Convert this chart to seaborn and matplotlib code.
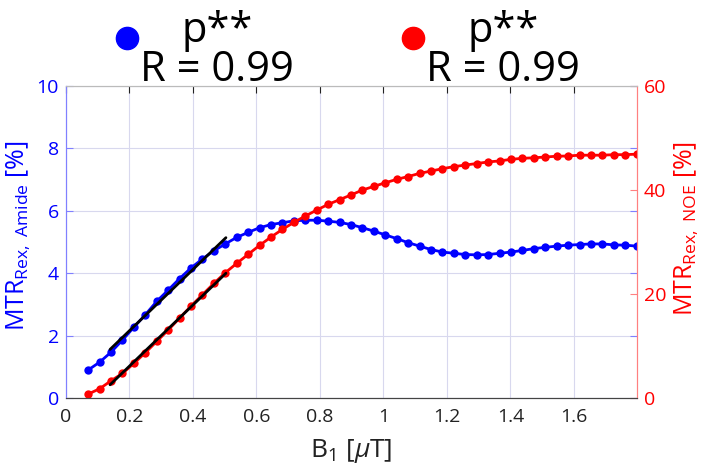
import matplotlib
matplotlib.use('Agg')
from matplotlib import pyplot as plt
from matplotlib.lines import Line2D
import pandas as pd
import seaborn as sns

# B1 sweep [uT]
b1 = [0.070, 0.106, 0.142, 0.178, 0.214, 0.250, 0.286, 0.322, 0.358, 0.394,
      0.430, 0.466, 0.502, 0.538, 0.574, 0.610, 0.646, 0.682, 0.718, 0.754,
      0.790, 0.826, 0.862, 0.898, 0.934, 0.970, 1.006, 1.042, 1.078, 1.114,
      1.150, 1.186, 1.222, 1.258, 1.294, 1.330, 1.366, 1.402, 1.438, 1.474,
      1.510, 1.546, 1.582, 1.618, 1.654, 1.690, 1.726, 1.762, 1.798]

amide = [0.90, 1.15, 1.47, 1.86, 2.27, 2.67, 3.10, 3.46, 3.83, 4.17,
         4.46, 4.72, 4.94, 5.15, 5.31, 5.46, 5.56, 5.62, 5.68, 5.70,
         5.70, 5.67, 5.63, 5.56, 5.46, 5.35, 5.23, 5.11, 4.98, 4.87,
         4.76, 4.68, 4.64, 4.60, 4.59, 4.60, 4.64, 4.68, 4.73, 4.79,
         4.83, 4.87, 4.90, 4.92, 4.94, 4.94, 4.91, 4.90, 4.87]

noe = [0.77, 1.79, 3.33, 4.74, 6.67, 8.72, 10.90, 13.08, 15.38, 17.69,
       19.87, 22.05, 24.10, 25.90, 27.63, 29.36, 30.96, 32.44, 33.78, 35.00,
       36.15, 37.24, 38.15, 39.05, 40.0, 40.7, 41.4, 42.05, 42.6, 43.2,
       43.65, 44.1, 44.5, 44.8, 45.1, 45.4, 45.6, 45.9, 46.1, 46.2,
       46.35, 46.5, 46.55, 46.7, 46.7, 46.7, 46.8, 46.8, 46.9]

# linear fits over the low-B1 range
fit_x = [0.139, 0.504]
fit_amide = [1.56, 5.14]
fit_noe = [2.56, 24.0]

stats_labels = ['p**\nR = 0.99', 'p**\nR = 0.99']

df = pd.DataFrame({'B1': b1, 'amide': amide, 'noe': noe})
fits = pd.DataFrame({'B1': fit_x, 'amide': fit_amide, 'noe': fit_noe})

sns.set_style('white')
plt.rcParams['font.family'] = ['Open Sans', 'DejaVu Sans']
plt.rcParams['mathtext.fontset'] = 'custom'
plt.rcParams['mathtext.rm'] = 'Open Sans'
plt.rcParams['mathtext.it'] = 'Open Sans:italic'

blue = '#0000ff'
red = '#ff0000'

fig = plt.figure(figsize=(7.09, 4.70), dpi=100)
ax = fig.add_axes([0.093, 0.153, 0.805, 0.664])
ax2 = ax.twinx()

sns.lineplot(data=df, x='B1', y='amide', ax=ax, color=blue, marker='o',
             markersize=6, markeredgewidth=0, linewidth=2)
sns.lineplot(data=fits, x='B1', y='amide', ax=ax, color='black', linewidth=2)
sns.lineplot(data=df, x='B1', y='noe', ax=ax2, color=red, marker='o',
             markersize=6, markeredgewidth=0, linewidth=2)
sns.lineplot(data=fits, x='B1', y='noe', ax=ax2, color='black', linewidth=2)

ax.set_xlim(0, 1.798)
ax.set_ylim(0, 10)
ax2.set_ylim(0, 60)
ax.set_xticks([0, 0.2, 0.4, 0.6, 0.8, 1, 1.2, 1.4, 1.6])
ax.set_xticklabels(['0', '0.2', '0.4', '0.6', '0.8', '1', '1.2', '1.4', '1.6'])
ax.set_yticks([0, 2, 4, 6, 8, 10])
ax2.set_yticks([0, 20, 40, 60])

ax.grid(True, color='#d8d8ee', linewidth=0.8)
ax.set_axisbelow(True)

ax.tick_params(axis='x', direction='in', top=True, length=5, labelsize=14,
               colors='#222222', pad=7)
ax.tick_params(axis='y', direction='in', right=True, length=5, labelsize=14,
               labelcolor=blue, color='#8080ff', pad=5)
ax2.tick_params(axis='y', direction='in', length=5, labelsize=14,
                labelcolor=red, color='#ff8080', pad=5)

for a in (ax, ax2):
    a.spines['top'].set_color('#bbbbbb')
    a.spines['bottom'].set_color('#444444')
    a.spines['left'].set_color('#8080ff')
    a.spines['right'].set_color('#ff8080')

ax.set_xlabel(r'B$_1$ [$\mu$T]', fontsize=19, color='#222222', labelpad=8)
ax.set_ylabel(r'MTR$_{\mathregular{Rex,\ Amide}}$ [%]', fontsize=18, color=blue)
ax2.set_ylabel(r'MTR$_{\mathregular{Rex,\ NOE}}$ [%]', fontsize=18, color=red)
ax.yaxis.set_label_coords(-0.058, 0.52)
ax2.yaxis.set_label_coords(1.063, 0.545)

# statistics annotations above the axes
for color, label, mx, tx in [(blue, stats_labels[0], 127, 217),
                             (red, stats_labels[1], 413, 503)]:
    fig.add_artist(Line2D([mx / 709], [1 - 38 / 470], transform=fig.transFigure,
                          color=color, marker='o', markersize=16, linestyle=''))
    fig.text(tx / 709, 1 - 10 / 470, label, ha='center', va='top',
             fontsize=30, color='black', linespacing=0.9,
             multialignment='center')

fig.savefig('out.png', dpi=100)
